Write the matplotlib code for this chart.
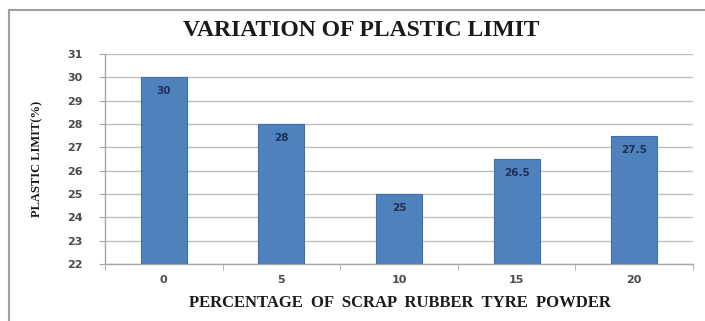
import matplotlib.pyplot as plt
from matplotlib.lines import Line2D

# chart data
categories = ['0', '5', '10', '15', '20']
plastic_limit = [30, 28, 25, 26.5, 27.5]
value_labels = ['30', '28', '25', '26.5', '27.5']
y_ticks = list(range(22, 32))

W, H = 705, 321
fig = plt.figure(figsize=(W/100, H/100), dpi=100)
ax = fig.add_axes([105/W, 1-264/H, (693-105)/W, (264-54)/H])

x = range(len(categories))
bars = ax.bar(x, plastic_limit, width=0.39, color='#4F81BD', edgecolor='#3F6FA8',
              linewidth=0.8, zorder=3)
for b, lab in zip(bars, value_labels):
    ax.text(b.get_x()+b.get_width()/2, b.get_height()-0.6, lab, ha='center', va='center',
            fontsize=7.5, color='#1F2F55', fontweight='bold', family='DejaVu Sans', zorder=4)

ax.set_xlim(-0.5, len(categories)-0.5)
ax.set_ylim(22, 31)
ax.set_yticks(y_ticks)
ax.set_xticks(list(x))
ax.set_xticklabels(categories)
ax.set_xticks([i+0.5 for i in range(-1, len(categories))], minor=True)
ax.grid(axis='y', color='#BFBFBF', linewidth=1, zorder=0)
for s in ['top', 'right']:
    ax.spines[s].set_visible(False)
for s in ['left', 'bottom']:
    ax.spines[s].set_color('#A6A6A6')
    ax.spines[s].set_linewidth(1)
ax.tick_params(axis='y', length=4, color='#A6A6A6', labelsize=8, labelcolor='#4A4A4A', pad=12)
ax.tick_params(axis='x', which='major', length=0, labelsize=8, labelcolor='#4A4A4A', pad=8)
ax.tick_params(axis='x', which='minor', length=4, color='#A6A6A6')
for t in ax.get_xticklabels() + ax.get_yticklabels():
    t.set_fontweight('bold')

ax.set_ylabel('PLASTIC LIMIT(%)', family='Liberation Serif', fontweight='bold',
              fontsize=9, color='#1A1A1A')
ax.yaxis.set_label_coords(-(105-43)/(693-105), 0.5)
fig.text(400/W, 1-303/H, 'PERCENTAGE  OF  SCRAP  RUBBER  TYRE  POWDER', ha='center', va='center',
         family='Liberation Serif', fontweight='bold', fontsize=12, color='#1A1A1A')
fig.text(361/W, 1-31/H, 'VARIATION OF PLASTIC LIMIT', ha='center', va='center',
         family='Liberation Serif', fontweight='bold', fontsize=17, color='#1A1A1A')

# chart border
fig.add_artist(Line2D([9/W, 1], [1-10/H, 1-10/H], color='#A0A0A0', linewidth=1.5))
fig.add_artist(Line2D([9/W, 9/W], [0, 1-10/H], color='#A0A0A0', linewidth=1.5))

fig.savefig('out.png', dpi=100)
